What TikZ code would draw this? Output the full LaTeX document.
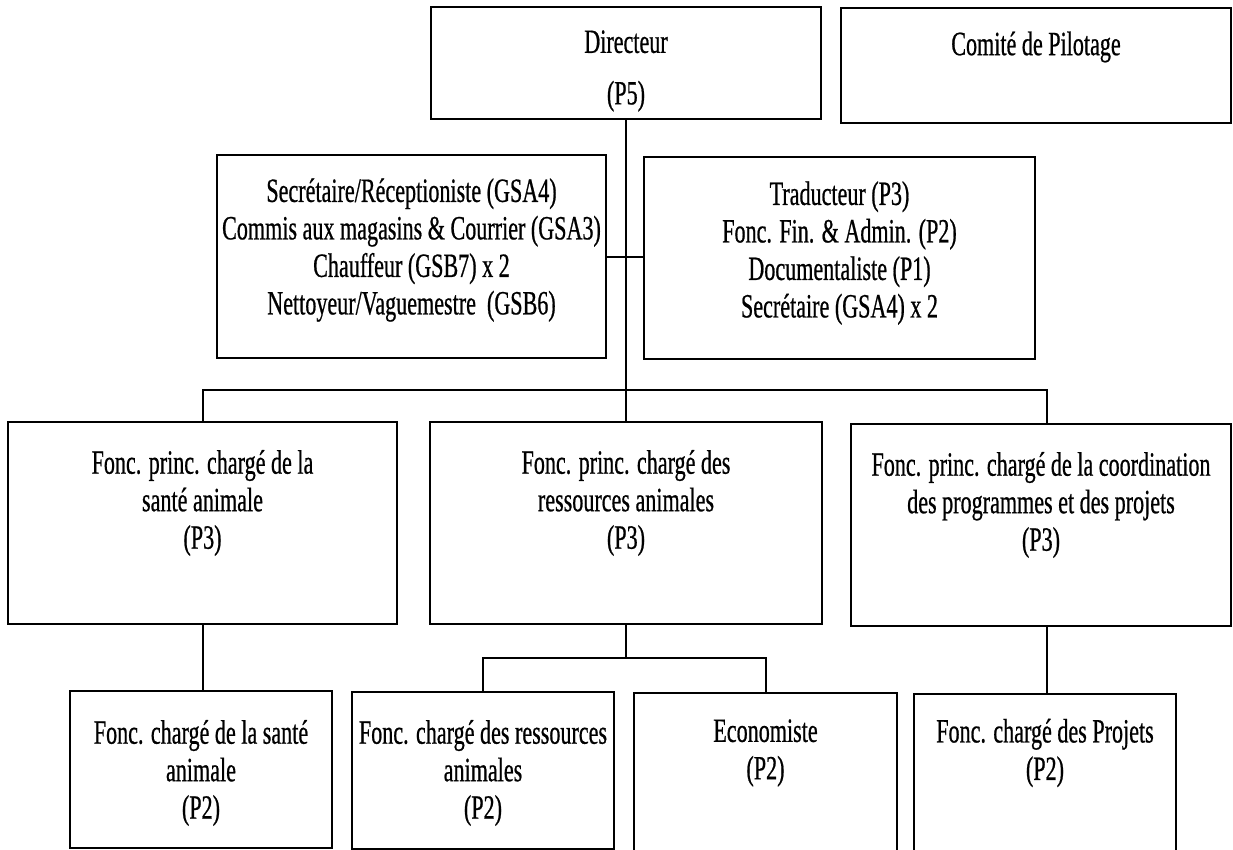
\documentclass[tikz,border=0pt]{standalone}
\usepackage{fontspec}
\setmainfont{Liberation Serif}[FakeStretch=0.65,FakeBold=0.6]
\begin{document}
\begin{tikzpicture}[x=1pt,y=-1pt,
  box/.style={draw, line width=1.9pt, inner sep=0pt, outer sep=0pt},
  txt/.style={align=center, inner sep=0pt, font=\fontsize{34}{37.5}\selectfont},
  conn/.style={line width=2pt}]
\useasboundingbox (0,0) rectangle (1233,850);
% boxes
\node[box, minimum width=390pt, minimum height=112pt] (dir) at (626,63) {};
\node[box, minimum width=390pt, minimum height=115pt] (com) at (1036,65.5) {};
\node[box, minimum width=389pt, minimum height=203pt] (sec) at (411.5,256.5) {};
\node[box, minimum width=391pt, minimum height=202pt] (trad) at (839.5,258) {};
\node[box, minimum width=389pt, minimum height=202pt] (lft) at (202.5,523) {};
\node[box, minimum width=392pt, minimum height=202pt] (mid) at (626,523) {};
\node[box, minimum width=380pt, minimum height=202pt] (rgt) at (1041,525) {};
\node[box, minimum width=262pt, minimum height=157pt] (b1) at (201,769.5) {};
\node[box, minimum width=262pt, minimum height=157pt] (b2) at (483,770.5) {};
\node[box, minimum width=263pt, minimum height=160pt] (b3) at (765.5,773) {};
\node[box, minimum width=262pt, minimum height=160pt] (b4) at (1045,774) {};
% connectors
\coordinate (busL) at (202.5,390);
\coordinate (busR) at (1047,390);
\coordinate (subM) at (626,658);
\coordinate (subL) at (483,658);
\coordinate (subR) at (765.5,658);
\draw[conn] (dir.south) -- (dir.south |- mid.north);
\draw[conn] (sec.east) -- (sec.east -| trad.west);
\draw[conn] (lft.north) -- (busL) -- (busR) -- (busR |- rgt.north);
\draw[conn] (lft.south) -- (lft.south |- b1.north);
\draw[conn] (mid.south) -- (subM);
\draw[conn] (b2.north) -- (subL) -- (subR) -- (b3.north);
\draw[conn] (busR |- rgt.south) -- (busR |- b4.north);
% texts
\node[txt] (tdir) at (626,71) {Directeur\\[14pt](P5)};
\node[txt] (tcom) at (1036,47) {Comité de Pilotage};
\node[txt] (tsec) at (411.5,250) {Secrétaire/Réceptioniste (GSA4)\\Commis aux magasins \& Courrier (GSA3)\\Chauffeur (GSB7) x 2\\Nettoyeur/Vaguemestre~~(GSB6)};
\node[txt] (ttrad) at (839.5,253) {Traducteur (P3)\\Fonc. Fin. \& Admin. (P2)\\Documentaliste (P1)\\Secrétaire (GSA4) x 2};
\node[txt] (tlft) at (202.5,503) {Fonc. princ. chargé de la\\santé animale\\(P3)};
\node[txt] (tmid) at (626,503) {Fonc. princ. chargé des\\ressources animales\\(P3)};
\node[txt] (trgt) at (1041,505) {Fonc. princ. chargé de la coordination\\des programmes et des projets\\(P3)};
\node[txt] (tb1) at (201,773) {Fonc. chargé de la santé\\animale\\(P2)};
\node[txt] (tb2) at (483,773) {Fonc. chargé des ressources\\animales\\(P2)};
\node[txt] (tb3) at (765.5,753) {Economiste\\(P2)};
\node[txt] (tb4) at (1045,753) {Fonc. chargé des Projets\\(P2)};
\end{tikzpicture}
\end{document}
